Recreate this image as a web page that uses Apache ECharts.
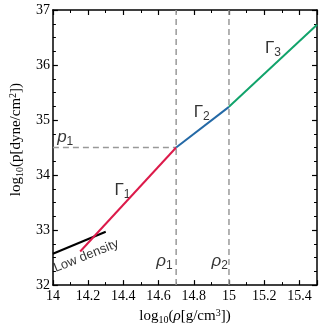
<!DOCTYPE html>
<html>
<head>
<meta charset="utf-8">
<script src="https://cdn.jsdelivr.net/npm/echarts@6/dist/echarts.min.js"></script>
<style>
  html, body { margin: 0; padding: 0; background: #fff; }
  #chart { width: 327px; height: 330px; }
</style>
</head>
<body>
<div id="chart"></div>
<script>
  // piecewise polytrope, log10 values
  const lowDensity = [[14.0, 32.57], [14.3, 32.97]]
  const gamma1 = [[14.155, 32.61], [14.7, 34.5]]
  const gamma2 = [[14.7, 34.5], [15.0, 35.24]]
  const gamma3 = [[15.0, 35.24], [15.5, 36.73]]
  const p1Guide = [[14.0, 34.5], [14.7, 34.5]]
  const rho1 = 14.7
  const rho2 = 15.0

  // text labels, in data units
  const notes = [
    { at: [14.07, 34.69], text: '{i|p}{s|1}' },
    { at: [14.634, 32.43], text: '{i|ρ}{s|1}' },
    { at: [14.947, 32.43], text: '{i|ρ}{s|2}' },
    { at: [14.395, 33.72], text: '{n|Γ}{s|1}' },
    { at: [14.845, 35.14], text: '{n|Γ}{s|2}' },
    { at: [15.25, 36.31], text: '{n|Γ}{s|3}' }
  ]
  const lowLabelAt = [14.19, 32.53]

  const serif = '"Liberation Serif", "DejaVu Serif", serif'
  const sans = '"Liberation Sans", Arial, sans-serif'

  const noteRich = {
    i: { fontFamily: sans, fontStyle: 'italic', fontSize: 17, color: '#000' },
    n: { fontFamily: sans, fontSize: 17, color: '#000' },
    s: { fontFamily: sans, fontSize: 12, color: '#000', padding: [9, 0, 0, 0] }
  }

  const frameLine = { show: true, onZero: false, lineStyle: { color: '#000', width: 1.5 } }
  const frameTick = { show: true, inside: true, length: 5, lineStyle: { color: '#000', width: 1.2 } }
  const minor = n => ({ show: true, splitNumber: n, length: 3, lineStyle: { color: '#000', width: 1 } })

  const chart = echarts.init(document.getElementById('chart'))

  function seg(data, color, width, dashed) {
    return {
      type: 'line',
      data: data,
      symbol: 'none',
      silent: true,
      lineStyle: { color: color, width: width, type: dashed ? [6, 4] : 'solid' },
      z: dashed ? 1 : 3
    }
  }

  const nameRich = {
    n: { fontFamily: serif, fontSize: 15, color: '#000' },
    i: { fontFamily: serif, fontStyle: 'italic', fontSize: 15, color: '#000' },
    s: { fontFamily: serif, fontSize: 10, color: '#000', padding: [7, 0, 0, 0] },
    u: { fontFamily: serif, fontSize: 10, color: '#000', padding: [0, 0, 7, 0] }
  }

  chart.setOption({
    animation: false,
    grid: { left: 45, right: 10, top: 10, bottom: 43 },
    xAxis: [
      {
        type: 'value', min: 14, max: 15.5, interval: 0.2,
        axisLine: frameLine, axisTick: frameTick, minorTick: minor(2),
        splitLine: { show: false },
        axisLabel: {
          fontFamily: serif, fontSize: 14, color: '#000', margin: 4, showMaxLabel: false,
          formatter: v => String(+v.toFixed(1))
        },
        name: '{n|log}{s|10}{n|(}{i|ρ}{n|[g/cm}{u|3}{n|])}',
        nameLocation: 'middle',
        nameGap: 22,
        nameTextStyle: { rich: nameRich }
      },
      {
        type: 'value', min: 14, max: 15.5, interval: 0.2, position: 'top',
        axisLabel: { show: false },
        axisLine: frameLine, axisTick: frameTick, minorTick: minor(2),
        splitLine: { show: false }
      }
    ],
    yAxis: [
      {
        type: 'value', min: 32, max: 37, interval: 1,
        axisLine: frameLine, axisTick: frameTick, minorTick: minor(4),
        splitLine: { show: false },
        axisLabel: { fontFamily: serif, fontSize: 14, color: '#000', margin: 3 },
        name: '{n|log}{s|10}{n|(p[dyne/cm}{u|2}{n|])}',
        nameLocation: 'middle',
        nameGap: 23,
        nameTextStyle: { rich: nameRich, padding: [0, 0, 0, 16] }
      },
      {
        type: 'value', min: 32, max: 37, interval: 1, position: 'right',
        axisLabel: { show: false },
        axisLine: frameLine, axisTick: frameTick, minorTick: minor(4),
        splitLine: { show: false }
      }
    ],
    series: [
      seg(p1Guide, '#999', 1.5, true),
      seg([[rho1, 32], [rho1, 37]], '#999', 1.5, true),
      seg([[rho2, 32], [rho2, 37]], '#999', 1.5, true),
      seg(lowDensity, '#000', 2),
      seg(gamma1, '#dc1a4a', 2),
      seg(gamma2, '#2469a6', 2),
      seg(gamma3, '#11a36b', 2),
      {
        type: 'scatter',
        symbolSize: 0,
        silent: true,
        data: [{ value: lowLabelAt }],
        label: {
          show: true, position: 'inside', rotate: 22,
          formatter: 'Low density',
          fontFamily: sans, fontSize: 13, color: '#000'
        }
      },
      {
        type: 'scatter',
        symbolSize: 0,
        silent: true,
        data: notes.map(n => ({ value: n.at, label: { formatter: n.text } })),
        label: { show: true, position: 'inside', rich: noteRich }
      }
    ]
  })
</script>
</body>
</html>
